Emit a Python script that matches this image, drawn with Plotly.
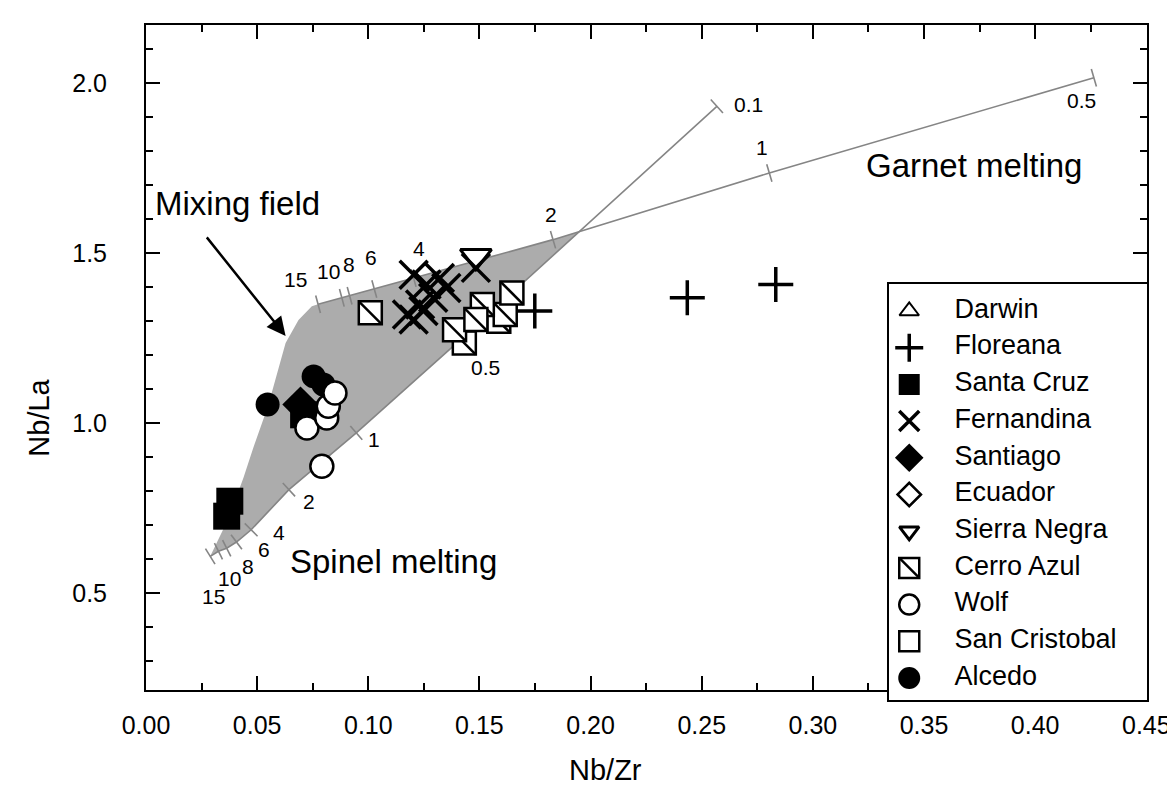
import numpy as np
import plotly.graph_objects as go

# ---------------- values ----------------
# melting curves (percent melting labels and their Nb/Zr, Nb/La positions)
spinel_f = ["15", "10", "8", "6", "4", "2", "1", "0.5", "0.1"]
spinel_x = [0.0289, 0.0326, 0.0363, 0.0407, 0.0473, 0.0643, 0.0946, 0.1434, 0.2568]
spinel_y = [0.608, 0.623, 0.632, 0.650, 0.686, 0.804, 0.971, 1.256, 1.931]

garnet_f = ["15", "10", "8", "6", "4", "2", "1", "0.5"]
garnet_x = [0.0774, 0.0881, 0.0916, 0.1027, 0.1204, 0.1831, 0.2804, 0.4264]
garnet_y = [1.349, 1.368, 1.374, 1.394, 1.426, 1.539, 1.735, 2.015]

# left (mixing) edge of the shaded field, from spinel 15% up towards garnet 15%
mix_x = [0.0372, 0.0438, 0.0482, 0.0549, 0.0628, 0.0686, 0.0746]
mix_y = [0.721, 0.838, 0.926, 1.050, 1.235, 1.303, 1.343]

# samples
darwin_x, darwin_y = [], []
floreana_x = [0.1749, 0.2435, 0.2833]
floreana_y = [1.329, 1.368, 1.407]
santacruz_x = [0.0377, 0.0363, 0.0709]
santacruz_y = [0.770, 0.726, 1.024]
fernandina_x = [0.1204, 0.1262, 0.1322, 0.1292, 0.1233, 0.1174, 0.1204, 0.1248, 0.1351, 0.1484]
fernandina_y = [1.436, 1.407, 1.426, 1.368, 1.348, 1.319, 1.304, 1.329, 1.397, 1.456]
santiago_x, santiago_y = [0.0695], [1.054]
ecuador_x, ecuador_y = [], []
sierra_x, sierra_y = [0.1484], [1.490]
cerro_x = [0.1432, 0.1388, 0.1587, 0.1616, 0.1513, 0.1484, 0.1646, 0.1009]
cerro_y = [1.235, 1.274, 1.299, 1.319, 1.348, 1.304, 1.382, 1.324]
wolf_x = [0.0791, 0.0724, 0.0813, 0.0820, 0.0850]
wolf_y = [0.873, 0.985, 1.015, 1.049, 1.088]
sancristobal_x, sancristobal_y = [], []
alcedo_x = [0.0547, 0.0754, 0.0798]
alcedo_y = [1.054, 1.137, 1.113]

islands = ["Darwin", "Floreana", "Santa Cruz", "Fernandina", "Santiago", "Ecuador",
           "Sierra Negra", "Cerro Azul", "Wolf", "San Cristobal", "Alcedo"]

# ---------------- layout geometry ----------------
W, H = 1175, 790
ML, MR, MT, MB = 138, 30, 17, 98
X_RANGE = [0, 0.4503]
Y_RANGE = [0.215, 2.17]
PW = W - ML - MR
PH_MAIN = (H - MB - 10) - MT   # main plot height in px
FONT = "Liberation Sans, Arial, Helvetica, sans-serif"
CURVE = "#858585"

sx = PW / (X_RANGE[1] - X_RANGE[0])
sy = PH_MAIN / (Y_RANGE[1] - Y_RANGE[0])


def tick_angles(xs, ys):
    px = np.array(xs) * sx
    py = -np.array(ys) * sy
    return list(np.degrees(np.arctan2(np.gradient(py), np.gradient(px))) + 90)


def seg_cross(p1, p2, q1, q2):
    d1 = np.subtract(p2, p1)
    d2 = np.subtract(q2, q1)
    a = np.array([[d1[0], -d2[0]], [d1[1], -d2[1]]])
    t, _ = np.linalg.solve(a, np.subtract(q1, p1))
    return p1[0] + t * d1[0], p1[1] + t * d1[1]


# crossing of garnet (2 -> 1) and spinel (0.5 -> 0.1) curves closes the field
cx, cy = seg_cross((garnet_x[5], garnet_y[5]), (garnet_x[6], garnet_y[6]),
                   (spinel_x[7], spinel_y[7]), (spinel_x[8], spinel_y[8]))
field_x = [spinel_x[0]] + mix_x + garnet_x[:6] + [cx] + spinel_x[7::-1]
field_y = [spinel_y[0]] + mix_y + garnet_y[:6] + [cy] + spinel_y[7::-1]

fig = go.Figure()

fig.add_trace(go.Scatter(x=field_x, y=field_y, fill="toself", fillcolor="#acacac",
                         mode="lines", line=dict(width=0), hoverinfo="skip"))

for xs, ys in [(spinel_x, spinel_y), (garnet_x, garnet_y)]:
    fig.add_trace(go.Scatter(x=xs, y=ys, mode="lines",
                             line=dict(color=CURVE, width=1.6), hoverinfo="skip"))
    fig.add_trace(go.Scatter(x=xs, y=ys, mode="markers", hoverinfo="skip",
                             marker=dict(symbol="line-ew", size=13, angle=tick_angles(xs, ys),
                                         color=CURVE, line=dict(color=CURVE, width=1.6))))

STYLE = {
    "Darwin": dict(symbol="triangle-up", color="white", lw=2),
    "Floreana": dict(symbol="cross-thin", color="black", lw=3.5),
    "Santa Cruz": dict(symbol="square", color="black", lw=0),
    "Fernandina": dict(symbol="x-thin", color="black", lw=3.5),
    "Santiago": dict(symbol="diamond", color="black", lw=0),
    "Ecuador": dict(symbol="diamond", color="white", lw=2.5),
    "Sierra Negra": dict(symbol="triangle-down", color="white", lw=3),
    "Cerro Azul": dict(symbol="square", color="white", lw=2.5),
    "Wolf": dict(symbol="circle", color="white", lw=2.5),
    "San Cristobal": dict(symbol="square", color="white", lw=2.5),
    "Alcedo": dict(symbol="circle", color="black", lw=0),
}
SIZE_MAIN = {"Darwin": 22, "Floreana": 25, "Santa Cruz": 27, "Fernandina": 28,
             "Santiago": 28, "Ecuador": 22, "Sierra Negra": 27, "Cerro Azul": 23,
             "Wolf": 23, "San Cristobal": 23, "Alcedo": 24}
SIZE_LEG = {"Darwin": 17, "Floreana": 20, "Santa Cruz": 21, "Fernandina": 20,
            "Santiago": 22, "Ecuador": 18, "Sierra Negra": 17, "Cerro Azul": 20,
            "Wolf": 20, "San Cristobal": 20, "Alcedo": 22}


def add_points(name, xs, ys, size, xaxis="x", yaxis="y"):
    st = STYLE[name]
    if name == "Cerro Azul":
        # one square + diagonal per sample so overlapping boxes hide each other
        for x, y in zip(xs, ys):
            fig.add_trace(go.Scatter(x=[x], y=[y], mode="markers", xaxis=xaxis, yaxis=yaxis,
                                     marker=dict(symbol="square", size=size, color="white",
                                                 line=dict(color="black", width=st["lw"]))))
            fig.add_trace(go.Scatter(x=[x], y=[y], mode="markers", xaxis=xaxis, yaxis=yaxis,
                                     marker=dict(symbol="line-nw", size=size, color="black",
                                                 line=dict(color="black", width=st["lw"]))))
        return
    fig.add_trace(go.Scatter(x=xs, y=ys, mode="markers", name=name, xaxis=xaxis, yaxis=yaxis,
                             marker=dict(symbol=st["symbol"], size=size, color=st["color"],
                                         line=dict(color="black", width=st["lw"]))))


samples = {
    "Darwin": (darwin_x, darwin_y), "Floreana": (floreana_x, floreana_y),
    "Santa Cruz": (santacruz_x, santacruz_y), "Fernandina": (fernandina_x, fernandina_y),
    "Santiago": (santiago_x, santiago_y), "Ecuador": (ecuador_x, ecuador_y),
    "Sierra Negra": (sierra_x, sierra_y), "Cerro Azul": (cerro_x, cerro_y),
    "Wolf": (wolf_x, wolf_y), "San Cristobal": (sancristobal_x, sancristobal_y),
    "Alcedo": (alcedo_x, alcedo_y),
}
draw_order = ["Sierra Negra", "Fernandina", "Cerro Azul", "Santa Cruz", "Santiago",
              "Alcedo", "Wolf", "Darwin", "Ecuador", "San Cristobal", "Floreana"]
for name in draw_order:
    xs, ys = samples[name]
    if xs:
        add_points(name, xs, ys, SIZE_MAIN[name])

# ---------------- legend box drawn as an inset subplot ----------------
LEG_L, LEG_R, LEG_T, LEG_B = 885, W - MR, 276, H - MB
ROW0, ROW_H = 303, 36.7
leg_rows = list(-np.arange(len(islands)))
for name, r in zip(islands, leg_rows):
    add_points(name, [0.08], [r], SIZE_LEG[name], xaxis="x2", yaxis="y2")
fig.add_trace(go.Scatter(x=[0.255] * len(islands), y=leg_rows, mode="text", text=islands,
                         textposition="middle right", xaxis="x2", yaxis="y2",
                         textfont=dict(family=FONT, size=27, color="black")))

# ---------------- annotations ----------------
ann = []
spinel_shift = [(3, -40), (11, -27), (21, -18), (28, -7), (28, -3), (20, -12), (18, -7), (21, -32), (32, 2)]
garnet_shift = [(-23, 25), (-13, 26), (-1, 31), (-3, 31), (5, 30), (-2, 25), (-7, 25), (-12, -23)]
for xs, ys, labels, shifts in [(spinel_x, spinel_y, spinel_f, spinel_shift),
                               (garnet_x, garnet_y, garnet_f, garnet_shift)]:
    for x, y, t, (dx, dy) in zip(xs, ys, labels, shifts):
        ann.append(dict(x=x, y=y, text=t, showarrow=False, xshift=dx, yshift=dy, borderpad=0,
                        font=dict(family=FONT, size=21, color="black")))

big = dict(family=FONT, size=33, color="black")
ann += [
    dict(x=0.003, y=1.644, text="Mixing field", showarrow=False, xanchor="left", font=big),
    dict(x=0.3724, y=1.758, text="Garnet melting", showarrow=False, xanchor="center", font=big),
    dict(x=0.0645, y=0.594, text="Spinel melting", showarrow=False, xanchor="left",
         borderpad=0, font=big),
    dict(x=0.0628, y=1.256, text="", showarrow=True, ax=-80, ay=-100, arrowhead=2,
         arrowsize=1.5, arrowwidth=2.5, arrowcolor="black", standoff=0),
    dict(xref="paper", yref="paper", x=(600 - ML) / PW, y=(H - MB - 762) / (H - MT - MB),
         xanchor="center", yanchor="middle",
         text="Nb/Zr", showarrow=False, font=dict(family=FONT, size=29, color="black")),
    dict(xref="paper", yref="paper", x=(30 - ML) / PW, y=(H - MB - 410) / (H - MT - MB),
         xanchor="center", yanchor="middle",
         text="Nb/La", showarrow=False, textangle=-90,
         font=dict(family=FONT, size=29, color="black")),
]

ph = H - MT - MB
axis_common = dict(showgrid=False, zeroline=False, showline=True, linecolor="black",
                   linewidth=2, mirror="allticks", ticks="inside", tickwidth=2,
                   ticklen=14, tickcolor="black", ticklabeloverflow="allow",
                   tickfont=dict(family=FONT, size=25, color="black"))
fig.update_layout(
    width=W, height=H,
    margin=dict(l=ML, r=MR, t=MT, b=MB),
    paper_bgcolor="white", plot_bgcolor="white",
    showlegend=False,
    xaxis=dict(range=X_RANGE, dtick=0.05, tickformat=".2f", ticklabelstandoff=12,
               minor=dict(dtick=0.025, ticklen=7, ticks="inside", tickcolor="black", tickwidth=2),
               domain=[0, 1], anchor="y", **axis_common),
    yaxis=dict(range=Y_RANGE, dtick=0.5, tickformat=".1f", ticklabelstandoff=32,
               minor=dict(dtick=0.1, ticklen=7, ticks="inside", tickcolor="black", tickwidth=2),
               domain=[10 / ph, 1], anchor="x", **axis_common),
    xaxis2=dict(range=[0, 1], domain=[(LEG_L - ML) / PW, 1], anchor="y2",
                showgrid=False, zeroline=False, showticklabels=False, ticks="",
                showline=True, linecolor="black", linewidth=2, mirror=True),
    yaxis2=dict(range=[-(LEG_B - ROW0) / ROW_H, (ROW0 - LEG_T) / ROW_H],
                domain=[0, (LEG_B - LEG_T) / ph], anchor="x2",
                showgrid=False, zeroline=False, showticklabels=False, ticks="",
                showline=True, linecolor="black", linewidth=2, mirror=True),
    annotations=ann,
)

fig.write_html("out.html")
